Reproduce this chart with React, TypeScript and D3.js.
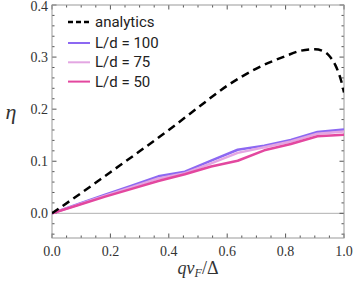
import React from 'react';
import * as d3 from 'd3';

// analytic curve (dashed)
const analyticX = [0, 0.1, 0.2, 0.3, 0.4, 0.5, 0.6, 0.7, 0.8, 0.85, 0.9, 0.93, 0.95, 0.97, 0.98, 0.99, 1.0];
const analyticY = [0, 0.039, 0.079, 0.119, 0.16, 0.203, 0.245, 0.278, 0.302, 0.312, 0.315, 0.311, 0.302, 0.285, 0.272, 0.255, 0.232];

// simulation points
const simX = [0, 0.091, 0.182, 0.273, 0.364, 0.455, 0.545, 0.636, 0.727, 0.818, 0.909, 1.0];
const ld100 = [0, 0.018, 0.036, 0.053, 0.071, 0.080, 0.101, 0.122, 0.130, 0.141, 0.156, 0.161];
const ld75 = [0, 0.017, 0.034, 0.050, 0.067, 0.077, 0.096, 0.116, 0.127, 0.138, 0.153, 0.157];
const ld50 = [0, 0.016, 0.032, 0.047, 0.062, 0.075, 0.090, 0.101, 0.121, 0.133, 0.148, 0.151];

const series = [
  { label: 'L/d = 100', values: ld100, color: '#8c68f2' },
  { label: 'L/d = 75', values: ld75, color: '#e3a6e2' },
  { label: 'L/d = 50', values: ld50, color: '#e3479f' },
];

const xTicks = [0, 0.2, 0.4, 0.6, 0.8, 1.0];
const yTicks = [0, 0.1, 0.2, 0.3, 0.4];

const W = 353;
const H = 282;
const left = 52;
const right = 344;
const top = 5;
const bottom = 238;

const App = () => {
  const x = d3.scaleLinear().domain([0, 1]).range([left, right]);
  const y = d3.scaleLinear().domain([-0.0474, 0.4]).range([bottom, top]);

  const line = d3.line<[number, number]>()
    .x(d => x(d[0]))
    .y(d => y(d[1]));

  const xMinor = d3.range(0, 1.0001, 0.05);
  const yMinor = d3.range(-0.04, 0.4001, 0.02);

  const frame = '#999';
  const tickCol = '#555';

  return (
    <svg width={W} height={H} style={{ position: 'absolute', left: 0, top: 0 }}>
      <rect width={W} height={H} fill="#fff" />
      {/* zero line */}
      <line x1={left} x2={right} y1={y(0)} y2={y(0)} stroke="#b0b0b0" strokeWidth={1} />

      {/* ticks */}
      {xMinor.map((t, i) => {
        const major = Math.abs(t / 0.2 - Math.round(t / 0.2)) < 1e-6;
        const len = major ? 4.5 : 2.5;
        return (
          <g key={'xt' + i}>
            <line x1={x(t)} x2={x(t)} y1={bottom} y2={bottom - len} stroke={tickCol} />
            <line x1={x(t)} x2={x(t)} y1={top} y2={top + len} stroke={tickCol} />
          </g>
        );
      })}
      {yMinor.map((t, i) => {
        const major = Math.abs(t / 0.1 - Math.round(t / 0.1)) < 1e-6;
        const len = major ? 4.5 : 2.5;
        return (
          <g key={'yt' + i}>
            <line x1={left} x2={left + len} y1={y(t)} y2={y(t)} stroke={tickCol} />
            <line x1={right} x2={right - len} y1={y(t)} y2={y(t)} stroke={tickCol} />
          </g>
        );
      })}

      {/* frame */}
      <rect x={left} y={top} width={right - left} height={bottom - top} fill="none" stroke={frame} strokeWidth={1} />

      {/* tick labels */}
      <g fontFamily="'Liberation Serif', 'Times New Roman', serif" fontSize={14} fill="#333">
        {xTicks.map(t => (
          <text key={'xl' + t} x={x(t)} y={256} textAnchor="middle">{t.toFixed(1)}</text>
        ))}
        {yTicks.map(t => (
          <text key={'yl' + t} x={left - 4} y={Math.max(y(t) + 4.5, 10.5)} textAnchor="end">{t.toFixed(1)}</text>
        ))}
      </g>

      {/* axis titles */}
      <text x={(left + right) / 2} y={274} textAnchor="middle" fontFamily="'Liberation Serif', serif" fontSize={18} fill="#333">
        <tspan fontStyle="italic">q</tspan>
        <tspan fontStyle="italic">v</tspan>
        <tspan fontStyle="italic" fontSize={12} dy={3}>F</tspan>
        <tspan dy={-3}>/Δ</tspan>
      </text>
      <text x={11} y={119} textAnchor="middle" fontFamily="'Liberation Serif', serif" fontStyle="italic" fontSize={22} fill="#333">η</text>

      {/* data */}
      <g clipPath="url(#clip)">
        {series.map(s => (
          <path
            key={s.label}
            d={line(simX.map((v, i) => [v, s.values[i]] as [number, number])) || ''}
            fill="none"
            stroke={s.color}
            strokeWidth={2.5}
            strokeLinejoin="round"
          />
        ))}
        <path
          d={line.curve(d3.curveMonotoneX)(analyticX.map((v, i) => [v, analyticY[i]] as [number, number])) || ''}
          fill="none"
          stroke="#000"
          strokeWidth={2.5}
          strokeDasharray="8,5"
        />
      </g>
      <defs>
        <clipPath id="clip">
          <rect x={left} y={top} width={right - left} height={bottom - top} />
        </clipPath>
      </defs>

      {/* legend */}
      <g fontFamily="Roboto, sans-serif" fontSize={15} fill="#222">
        <line x1={68} x2={89} y1={22} y2={22} stroke="#000" strokeWidth={2.5} strokeDasharray="5,3" />
        <text x={95} y={27}>analytics</text>
        {series.map((s, i) => (
          <g key={'lg' + s.label}>
            <line x1={68} x2={90} y1={43 + i * 19.3} y2={43 + i * 19.3} stroke={s.color} strokeWidth={2} />
            <text x={95} y={48 + i * 19.3}>{s.label}</text>
          </g>
        ))}
      </g>
    </svg>
  );
};

export default App;
